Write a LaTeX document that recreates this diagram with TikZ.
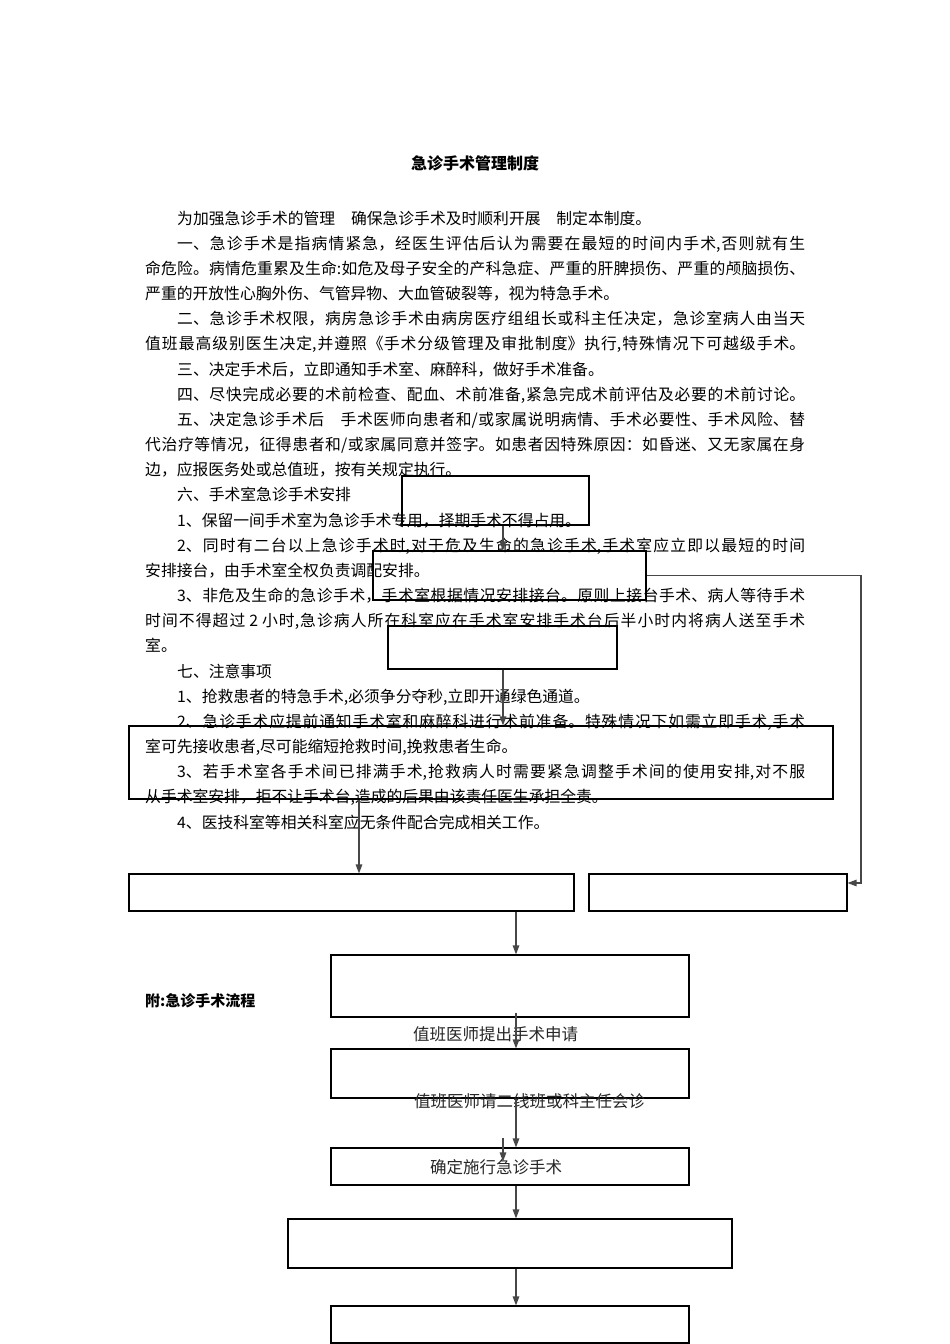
\documentclass[tikz,border=0pt]{standalone}
\usepackage{fontspec}
\usetikzlibrary{arrows.meta}
\setmainfont{Noto Sans CJK SC}
\XeTeXlinebreaklocale "zh"
\XeTeXlinebreakskip=0pt plus 4pt
\newcommand\JL[2]{\parbox[b]{#1}{\tolerance=10000\parfillskip=0pt\relax #2}}
\begin{document}
\begin{tikzpicture}[x=1pt,y=-1pt,
  txt/.style={anchor=base west, inner sep=0pt, font=\fontsize{15.8}{15.8}\selectfont},
  box/.style={draw=black, line width=1.1pt, inner sep=0pt},
  arr/.style={draw=black!72, line width=1.2pt, -{Triangle[length=9pt,width=6.5pt]}},
  lbl/.style={inner sep=0pt, text=black!85, font=\fontsize{16.5}{16.5}\selectfont}]
\path[use as bounding box] (0,0) rectangle (950,1344);

% title
\node[inner sep=0pt, font=\fontsize{16}{16}\selectfont\bfseries] (title) at (475,163) {急诊手术管理制度};

% body text
\node[txt] (l0) at (177,224.0) {为加强急诊手术的管理　确保急诊手术及时顺利开展　制定本制度。};
\node[txt] (l1) at (177,249.2) {\JL{628pt}{一、急诊手术是指病情紧急，经医生评估后认为需要在最短的时间内手术,否则就有生}};
\node[txt] (l2) at (145,274.3) {\JL{660pt}{命危险。病情危重累及生命:如危及母子安全的产科急症、严重的肝脾损伤、严重的颅脑损伤、}};
\node[txt] (l3) at (145,299.5) {严重的开放性心胸外伤、气管异物、大血管破裂等，视为特急手术。};
\node[txt] (l4) at (177,324.7) {\JL{628pt}{二、急诊手术权限，病房急诊手术由病房医疗组组长或科主任决定，急诊室病人由当天}};
\node[txt] (l5) at (145,349.9) {\JL{660pt}{值班最高级别医生决定,并遵照《手术分级管理及审批制度》执行,特殊情况下可越级手术。}};
\node[txt] (l6) at (177,375.0) {三、决定手术后，立即通知手术室、麻醉科，做好手术准备。};
\node[txt] (l7) at (177,400.2) {\JL{628pt}{四、尽快完成必要的术前检查、配血、术前准备,紧急完成术前评估及必要的术前讨论。}};
\node[txt] (l8) at (177,425.4) {\JL{628pt}{五、决定急诊手术后　手术医师向患者和/或家属说明病情、手术必要性、手术风险、替}};
\node[txt] (l9) at (145,450.5) {\JL{660pt}{代治疗等情况，征得患者和/或家属同意并签字。如患者因特殊原因：如昏迷、又无家属在身}};
\node[txt] (l10) at (145,475.7) {边，应报医务处或总值班，按有关规定执行。};
\node[txt] (l11) at (177,500.9) {六、手术室急诊手术安排};
\node[txt] (l12) at (177,526.0) {1、保留一间手术室为急诊手术专用，择期手术不得占用。};
\node[txt] (l13) at (177,551.2) {\JL{628pt}{2、同时有二台以上急诊手术时,对于危及生命的急诊手术,手术室应立即以最短的时间}};
\node[txt] (l14) at (145,576.4) {安排接台，由手术室全权负责调配安排。};
\node[txt] (l15) at (177,601.6) {\JL{628pt}{3、非危及生命的急诊手术，手术室根据情况安排接台。原则上接台手术、病人等待手术}};
\node[txt] (l16) at (145,626.7) {\JL{660pt}{时间不得超过 2 小时,急诊病人所在科室应在手术室安排手术台后半小时内将病人送至手术}};
\node[txt] (l17) at (145,651.9) {室。};
\node[txt] (l18) at (177,677.1) {七、注意事项};
\node[txt] (l19) at (177,702.2) {1、抢救患者的特急手术,必须争分夺秒,立即开通绿色通道。};
\node[txt] (l20) at (177,727.4) {\JL{628pt}{2、急诊手术应提前通知手术室和麻醉科进行术前准备。特殊情况下如需立即手术,手术}};
\node[txt] (l21) at (145,752.6) {室可先接收患者,尽可能缩短抢救时间,挽救患者生命。};
\node[txt] (l22) at (177,777.7) {\JL{628pt}{3、若手术室各手术间已排满手术,抢救病人时需要紧急调整手术间的使用安排,对不服}};
\node[txt] (l23) at (145,802.9) {从手术室安排，拒不让手术台,造成的后果由该责任医生承担全责。};
\node[txt] (l24) at (177,828.1) {4、医技科室等相关科室应无条件配合完成相关工作。};

\node[anchor=west, inner sep=0pt, font=\fontsize{15}{15}\selectfont\bfseries] (fu) at (145,1001) {附:急诊手术流程};

% boxes
\node[box, minimum width=187pt, minimum height=49pt] (b1) at (495.5,500.5) {};
\node[box, minimum width=273pt, minimum height=49pt] (b2) at (509.5,575.5) {};
\node[box, minimum width=229pt, minimum height=43pt] (b3) at (502.5,647.5) {};
\node[box, minimum width=704pt, minimum height=73pt] (b4) at (481,762.5) {};
\node[box, minimum width=445pt, minimum height=37pt] (b5) at (351.5,892.5) {};
\node[box, minimum width=258pt, minimum height=37pt] (b6) at (718,892.5) {};
\node[box, minimum width=358pt, minimum height=62pt] (b7) at (510,986) {};
\node[box, minimum width=358pt, minimum height=49pt] (b8) at (510,1073.5) {};
\node[box, minimum width=358pt, minimum height=37pt] (b9) at (510,1166.5) {};
\node[box, minimum width=444pt, minimum height=49pt] (b10) at (510,1243.5) {};
\node[box, minimum width=358pt, minimum height=37pt] (b11) at (510,1324.5) {};

% labels
\node[lbl] (t1) at (495.5,1034) {值班医师提出手术申请};
\node[lbl] (t2) at (529.5,1101) {值班医师请二线班或科主任会诊};
\node[lbl] (t3) at (496,1167) {确定施行急诊手术};

% helper coordinates
\coordinate (c503) at (503,0);
\coordinate (c359) at (359,0);
\coordinate (c516) at (516,0);
\coordinate (c861) at (861,0);
\coordinate (c883) at (0,883);
\coordinate (s1) at (503,1138);

% connectors
\draw[arr] (b1.south -| c503) -- (b2.north -| c503);
\draw[arr] (b2.east) -- (b2.east -| c861) -- (c861 |- c883) -- (b6.east |- c883);
\draw[arr] (b3.south -| c503) -- (b4.north -| c503);
\draw[arr] (b4.south -| c359) -- (b5.north -| c359);
\draw[arr] (b5.south -| c516) -- (b7.north -| c516);
\draw[arr] ([yshift=5pt]b7.south -| c516) -- (b8.north -| c516);
\draw[arr] (b8.south -| c516) -- (b9.north -| c516);
\draw[arr] (s1) -- ([yshift=-14pt]b9.north -| s1);
\draw[arr] (b9.south -| c516) -- (b10.north -| c516);
\draw[arr] (b10.south -| c516) -- (b11.north -| c516);
\end{tikzpicture}
\end{document}
